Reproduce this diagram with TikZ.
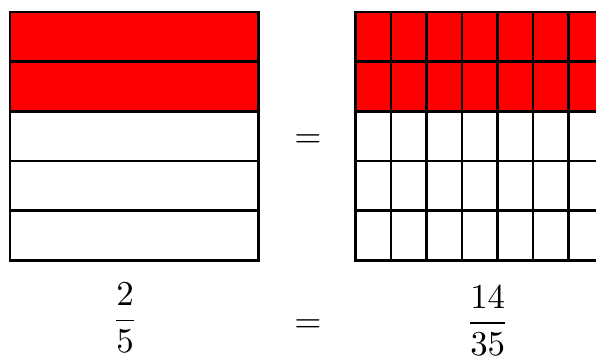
\documentclass[tikz,border=0pt]{standalone}
\usepackage{amsmath}
\begin{document}
\begin{tikzpicture}
  \useasboundingbox (-0.1,-0.965) rectangle (5.9,2.62);
  \clip (-0.1,-0.965) rectangle (5.9,2.62);
  % left: fifths
  \fill[red] (0,1.5) rectangle (2.5,2.5);
  \foreach \y in {0.5,1,...,2} \draw[thick] (0,\y) -- (2.5,\y);
  \draw[thick] (0,0) rectangle (2.5,2.5);
  % right: thirty-fifths
  \fill[red] (3.48,1.5) rectangle (5.98,2.5);
  \foreach \y in {0.5,1,...,2} \draw[thick] (3.48,\y) -- (5.98,\y);
  \foreach \i in {1,...,6} \draw[thick] ({3.48+\i*2.5/7},0) -- ({3.48+\i*2.5/7},2.5);
  \draw[thick] (3.48,0) rectangle (5.98,2.5);
  \node (eqtop) at (3,1.2) {$=$};
  \node (lhs) at (1.16,-0.58) {$\dfrac{2}{5}$};
  \node (eqbot) at (3,-0.66) {$=$};
  \node (rhs) at (4.81,-0.61) {$\dfrac{14}{35}$};
\end{tikzpicture}
\end{document}
